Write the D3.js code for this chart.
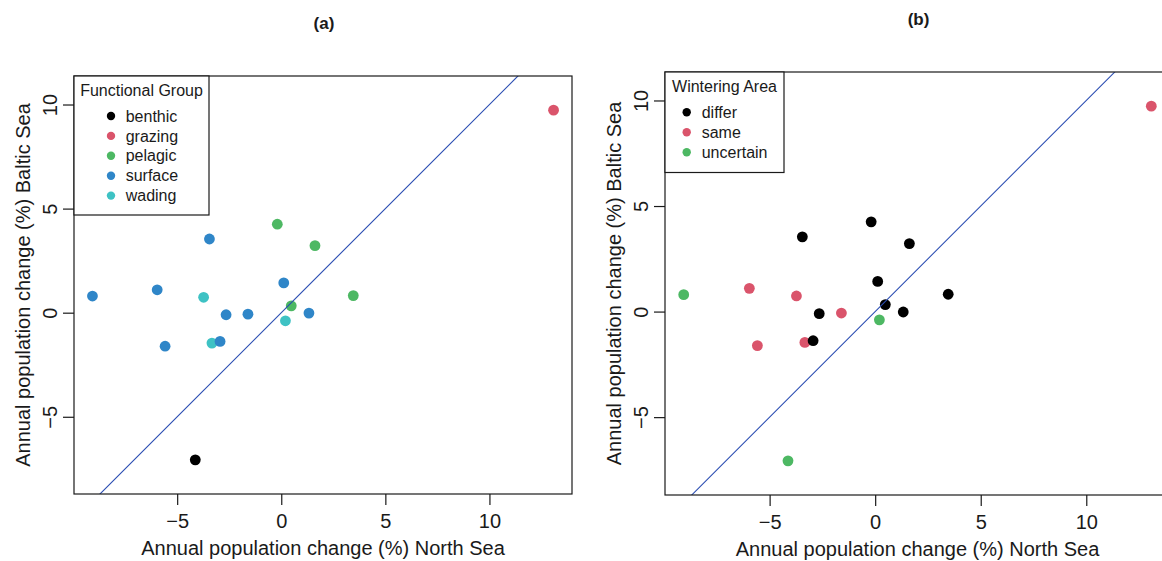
<!DOCTYPE html>
<html>
<head>
<meta charset="utf-8">
<script src="https://cdn.jsdelivr.net/npm/d3@7"></script>
<style>
  html, body { margin: 0; padding: 0; background: #fff; }
  svg { display: block; font-family: "Liberation Sans", Arial, Helvetica, sans-serif; }
</style>
</head>
<body>
<svg id="chart" width="1162" height="561"></svg>
<script>
// ---------------- data ----------------
const northSea = [13.08, -4.13, -0.19, 1.62, 3.46, 0.48, -3.73, 0.20, -3.33,
                  -3.45, -9.07, -5.96, 0.12, -2.65, -1.60, 1.33, -5.58, -2.94];
const balticSea = [9.73, -7.07, 4.25, 3.22, 0.82, 0.33, 0.74, -0.39, -1.46,
                   3.54, 0.80, 1.10, 1.43, -0.10, -0.07, -0.02, -1.61, -1.38];
const functionalGroup = ["grazing", "benthic", "pelagic", "pelagic", "pelagic", "pelagic",
                         "wading", "wading", "wading",
                         "surface", "surface", "surface", "surface", "surface",
                         "surface", "surface", "surface", "surface"];
const winteringArea = ["same", "uncertain", "differ", "differ", "differ", "differ",
                       "same", "uncertain", "same",
                       "differ", "uncertain", "same", "differ", "differ",
                       "same", "differ", "same", "differ"];
const groupLevels = ["benthic", "grazing", "pelagic", "surface", "wading"];
const groupColors = ["#000000", "#DA546B", "#4DB863", "#2F86C8", "#3EC2C4"];
const winterLevels = ["differ", "same", "uncertain"];
const winterColors = ["#000000", "#DA546B", "#4DB863"];
const tickValues = [-5, 0, 5, 10];
const xTitle = "Annual population change (%) North Sea";
const yTitle = "Annual population change (%) Baltic Sea";

// ---------------- layout ----------------
const panels = [
  { title: "(a)", rect: { left: 74, top: 76, right: 572, bottom: 494 },
    groups: functionalGroup, levels: groupLevels, colors: groupColors,
    legendTitle: "Functional Group",
    legend: { w: 135, h: 139, titleDy: 14.7, firstDy: 40, step: 19.9, dotDx: 37, textDx: 51.7 } },
  { title: "(b)", rect: { left: 665, top: 72, right: 1170, bottom: 495 },
    groups: winteringArea, levels: winterLevels, colors: winterColors,
    legendTitle: "Wintering Area",
    legend: { w: 119, h: 100.5, titleDy: 14.7, firstDy: 40.3, step: 20, dotDx: 21.7, textDx: 36.7 } }
];

const svg = d3.select("#chart");
const ink = "#1a1a1a";

panels.forEach((p, pi) => {
  const r = p.rect;
  const W = r.right - r.left, H = r.bottom - r.top;
  const g = svg.append("g");

  // x scale: data range padded by 4% (R style)
  const xe = d3.extent(northSea);
  const xpad = (xe[1] - xe[0]) * 0.04;
  const xdom = [xe[0] - xpad, xe[1] + xpad];
  const x = d3.scaleLinear().domain(xdom).range([r.left, r.right]);
  // y scale: asp = 1, centred on the data
  const k = W / (xdom[1] - xdom[0]);
  const ye = d3.extent(balticSea);
  const yc = (ye[0] + ye[1]) / 2;
  const ySpan = H / k;
  const y = d3.scaleLinear().domain([yc - ySpan / 2, yc + ySpan / 2]).range([r.bottom, r.top]);

  const color = d3.scaleOrdinal().domain(p.levels).range(p.colors);

  // clip
  const clipId = "clip" + pi;
  svg.append("defs").append("clipPath").attr("id", clipId)
    .append("rect").attr("x", r.left).attr("y", r.top).attr("width", W).attr("height", H);

  // points
  g.append("g").attr("clip-path", `url(#${clipId})`)
    .selectAll("circle").data(d3.range(northSea.length)).join("circle")
    .attr("cx", i => x(northSea[i]))
    .attr("cy", i => y(balticSea[i]))
    .attr("r", 5.4)
    .attr("fill", i => color(p.groups[i]));

  // 1:1 line
  const lineData = [xdom[0] - 1, xdom[1] + 1];
  g.append("path").attr("clip-path", `url(#${clipId})`)
    .attr("d", d3.line().x(v => x(v)).y(v => y(v))(lineData))
    .attr("fill", "none").attr("stroke", "#2A4DB2").attr("stroke-width", 1.1);

  // box
  g.append("rect").attr("x", r.left).attr("y", r.top).attr("width", W).attr("height", H)
    .attr("fill", "none").attr("stroke", ink).attr("stroke-width", 1.2);

  // x axis
  const xa = g.append("g").attr("transform", `translate(0,${r.bottom})`)
    .call(d3.axisBottom(x).tickValues(tickValues).tickSize(11).tickFormat(d3.format("d")));
  xa.select(".domain").remove();
  xa.selectAll(".tick line").attr("stroke", ink).attr("stroke-width", 1.2);
  xa.selectAll(".tick text").attr("y", 34).attr("dy", null)
    .attr("font-size", 20).attr("fill", ink).attr("font-family", null);

  // y axis
  const ya = g.append("g").attr("transform", `translate(${r.left},0)`)
    .call(d3.axisLeft(y).tickValues(tickValues).tickSize(11).tickFormat(d3.format("d")));
  ya.select(".domain").remove();
  ya.selectAll(".tick line").attr("stroke", ink).attr("stroke-width", 1.2);
  ya.selectAll(".tick text").attr("x", null).attr("dy", null)
    .attr("transform", "translate(-17,0) rotate(-90)")
    .attr("text-anchor", "middle")
    .attr("font-size", 20).attr("fill", ink).attr("font-family", null);

  // axis titles
  g.append("text").attr("x", (r.left + Math.min(r.right, 1162 + 8)) / 2).attr("y", r.bottom + 61)
    .attr("text-anchor", "middle").attr("font-size", 20).attr("fill", ink).text(xTitle);
  g.append("text")
    .attr("transform", `translate(${r.left - 44},${(r.top + r.bottom) / 2}) rotate(-90)`)
    .attr("text-anchor", "middle").attr("font-size", 20).attr("fill", ink).text(yTitle);

  // panel title
  g.append("text").attr("x", (r.left + r.right) / 2 + 1).attr("y", r.top - 47)
    .attr("text-anchor", "middle").attr("font-size", 17).attr("font-weight", "bold")
    .attr("fill", ink).text(p.title);

  // legend
  const L = p.legend;
  const lg = g.append("g").attr("transform", `translate(${r.left},${r.top})`);
  lg.append("rect").attr("x", 0).attr("y", 0).attr("width", L.w).attr("height", L.h)
    .attr("fill", "#fff").attr("stroke", ink).attr("stroke-width", 1.2);
  lg.append("text").attr("x", L.w / 2).attr("y", L.titleDy + 5.6)
    .attr("text-anchor", "middle").attr("font-size", 16).attr("fill", ink).text(p.legendTitle);
  const items = lg.selectAll("g.item").data(p.levels).join("g").attr("class", "item")
    .attr("transform", (d, i) => `translate(0,${L.firstDy + i * L.step})`);
  items.append("circle").attr("cx", L.dotDx).attr("cy", 0).attr("r", 4.2)
    .attr("fill", d => color(d));
  items.append("text").attr("x", L.textDx).attr("y", 5.6)
    .attr("font-size", 16).attr("fill", ink).text(d => d);
});
</script>
</body>
</html>
